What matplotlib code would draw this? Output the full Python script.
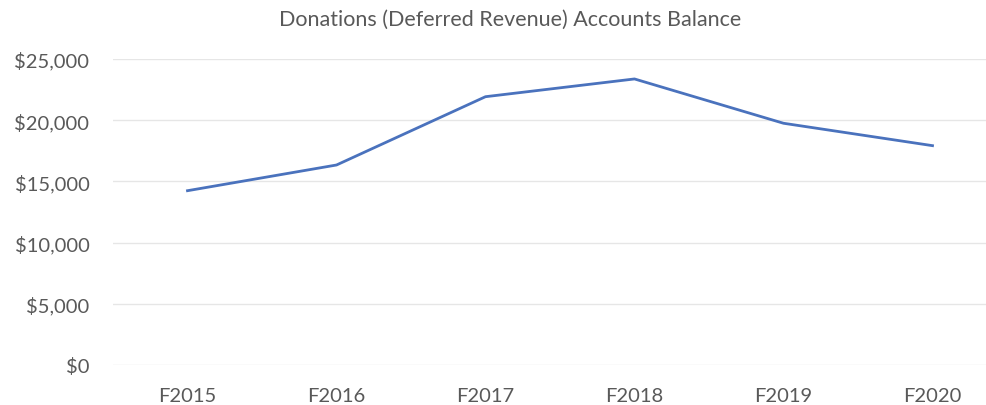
import numpy as np
import matplotlib.pyplot as plt
from matplotlib.ticker import FuncFormatter

# datos
years = ['F2015', 'F2016', 'F2017', 'F2018', 'F2019', 'F2020']
balance = [14240, 16340, 21920, 23370, 19750, 17920]
y_ticks = [0, 5000, 10000, 15000, 20000, 25000]

plt.rcParams['font.family'] = ['Lato', 'DejaVu Sans']
txt_color = '#595959'

fig = plt.figure(figsize=(9.87, 4.06), dpi=100)
ax = fig.add_axes([113 / 987, 40 / 406, 894 / 987, 306 / 406])

x = np.arange(len(years))
ax.plot(x, balance, color='#4A72BD', linewidth=2.0, solid_joinstyle='round')

ax.set_xlim(-0.5, len(years) - 0.5)
ax.set_ylim(0, 25000)
ax.set_xticks(x)
ax.set_xticklabels(years)
ax.set_yticks(y_ticks)
ax.yaxis.set_major_formatter(FuncFormatter(lambda v, p: '${:,.0f}'.format(v)))
ax.tick_params(axis='both', length=0, labelsize=14.5, colors=txt_color)
ax.tick_params(axis='x', pad=16)
ax.tick_params(axis='y', pad=17)
ax.grid(axis='y', color='#E6E6E6', linewidth=1)
ax.set_axisbelow(True)
for s in ax.spines.values():
    s.set_visible(False)

fig.text(510 / 987, 1 - 20 / 406, 'Donations (Deferred Revenue) Accounts Balance',
         ha='center', va='center', fontsize=15.5, color=txt_color)

fig.savefig('out.png', dpi=100)
